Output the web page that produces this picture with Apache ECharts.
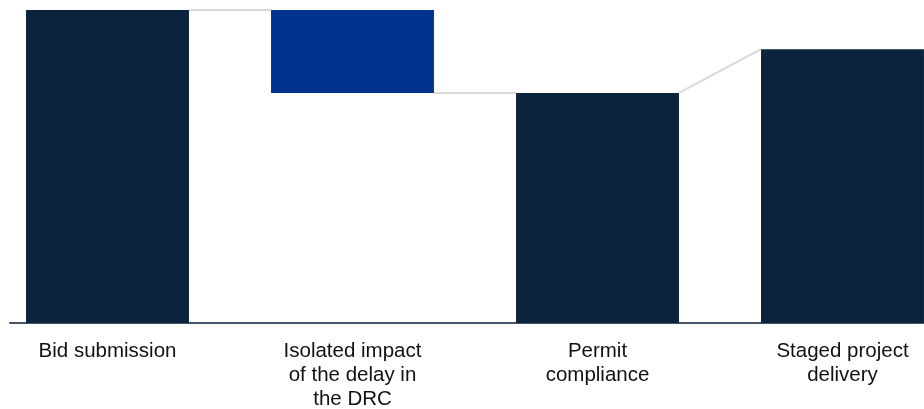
<!DOCTYPE html>
<html>
<head>
<meta charset="utf-8">
<script src="https://cdn.jsdelivr.net/npm/echarts@6/dist/echarts.min.js"></script>
<style>html,body{margin:0;padding:0;background:#fff;}#c{width:924px;height:409px;}</style>
</head>
<body>
<div id="c"></div>
<script>
const categories = ['Bid submission', 'Isolated impact\nof the delay in\nthe DRC', 'Permit\ncompliance', 'Staged project\ndelivery'];
// waterfall: invisible base + visible bar
const baseValues = [0, 73.5, 0, 0];
const barValues = [100, 26.5, 73.5, 87.5];
// level where each step ends (start level for connector) and where next step begins
const endLevels = [100, 73.5, 73.5, 87.5];
const startLevels = [100, 100, 73.5, 87.5];
const barColors = ['#0b233c', '#00338f', '#0b233c', '#0b233c'];

const BAR_FRAC = 0.665;

const chart = echarts.init(document.getElementById('c'), null, {renderer: 'canvas'});
const connectorData = categories.slice(0, -1).map((_, i) => [i, endLevels[i], startLevels[i + 1]]);

chart.setOption({
  animation: false,
  backgroundColor: '#ffffff',
  grid: [
    {left: -15, right: -41, top: 10, bottom: 86, containLabel: false, outerBoundsMode: 'none'},
    {left: 10, right: 0, top: 10, bottom: 86, containLabel: false, outerBoundsMode: 'none'}
  ],
  xAxis: [
    {
      type: 'category', gridIndex: 0, data: categories,
      axisLine: {show: false}, axisTick: {show: false},
      axisLabel: {
        interval: 0, margin: 16, color: '#111111',
        fontFamily: 'Liberation Sans, Arial, sans-serif', fontSize: 20.5, lineHeight: 24
      }
    },
    {
      type: 'value', gridIndex: 1, min: 0, max: 1,
      axisLine: {show: true, onZero: false, lineStyle: {color: '#44546a', width: 2}},
      axisTick: {show: false}, axisLabel: {show: false}, splitLine: {show: false}
    }
  ],
  yAxis: [
    {type: 'value', gridIndex: 0, min: 0, max: 100, show: false, splitLine: {show: false}},
    {type: 'value', gridIndex: 1, min: 0, max: 1, show: false, splitLine: {show: false}}
  ],
  series: [
    {
      type: 'bar', stack: 'w', xAxisIndex: 0, yAxisIndex: 0,
      barWidth: (BAR_FRAC * 100) + '%',
      itemStyle: {color: 'transparent'},
      data: baseValues, silent: true
    },
    {
      type: 'bar', stack: 'w', xAxisIndex: 0, yAxisIndex: 0,
      barWidth: (BAR_FRAC * 100) + '%',
      data: barValues.map((v, i) => ({value: v, itemStyle: {color: barColors[i]}}))
    },
    {
      type: 'custom', xAxisIndex: 0, yAxisIndex: 0, z: 1,
      data: connectorData,
      renderItem: function (params, api) {
        const i = api.value(0);
        const p1 = api.coord([i, api.value(1)]);
        const p2 = api.coord([i + 1, api.value(2)]);
        const band = api.size([1, 0])[0];
        const half = band * BAR_FRAC / 2;
        return {
          type: 'line',
          shape: {x1: p1[0] + half, y1: p1[1], x2: p2[0] - half, y2: p2[1]},
          style: {stroke: '#d9d9d9', lineWidth: 2}
        };
      }
    }
  ]
});
</script>
</body>
</html>
